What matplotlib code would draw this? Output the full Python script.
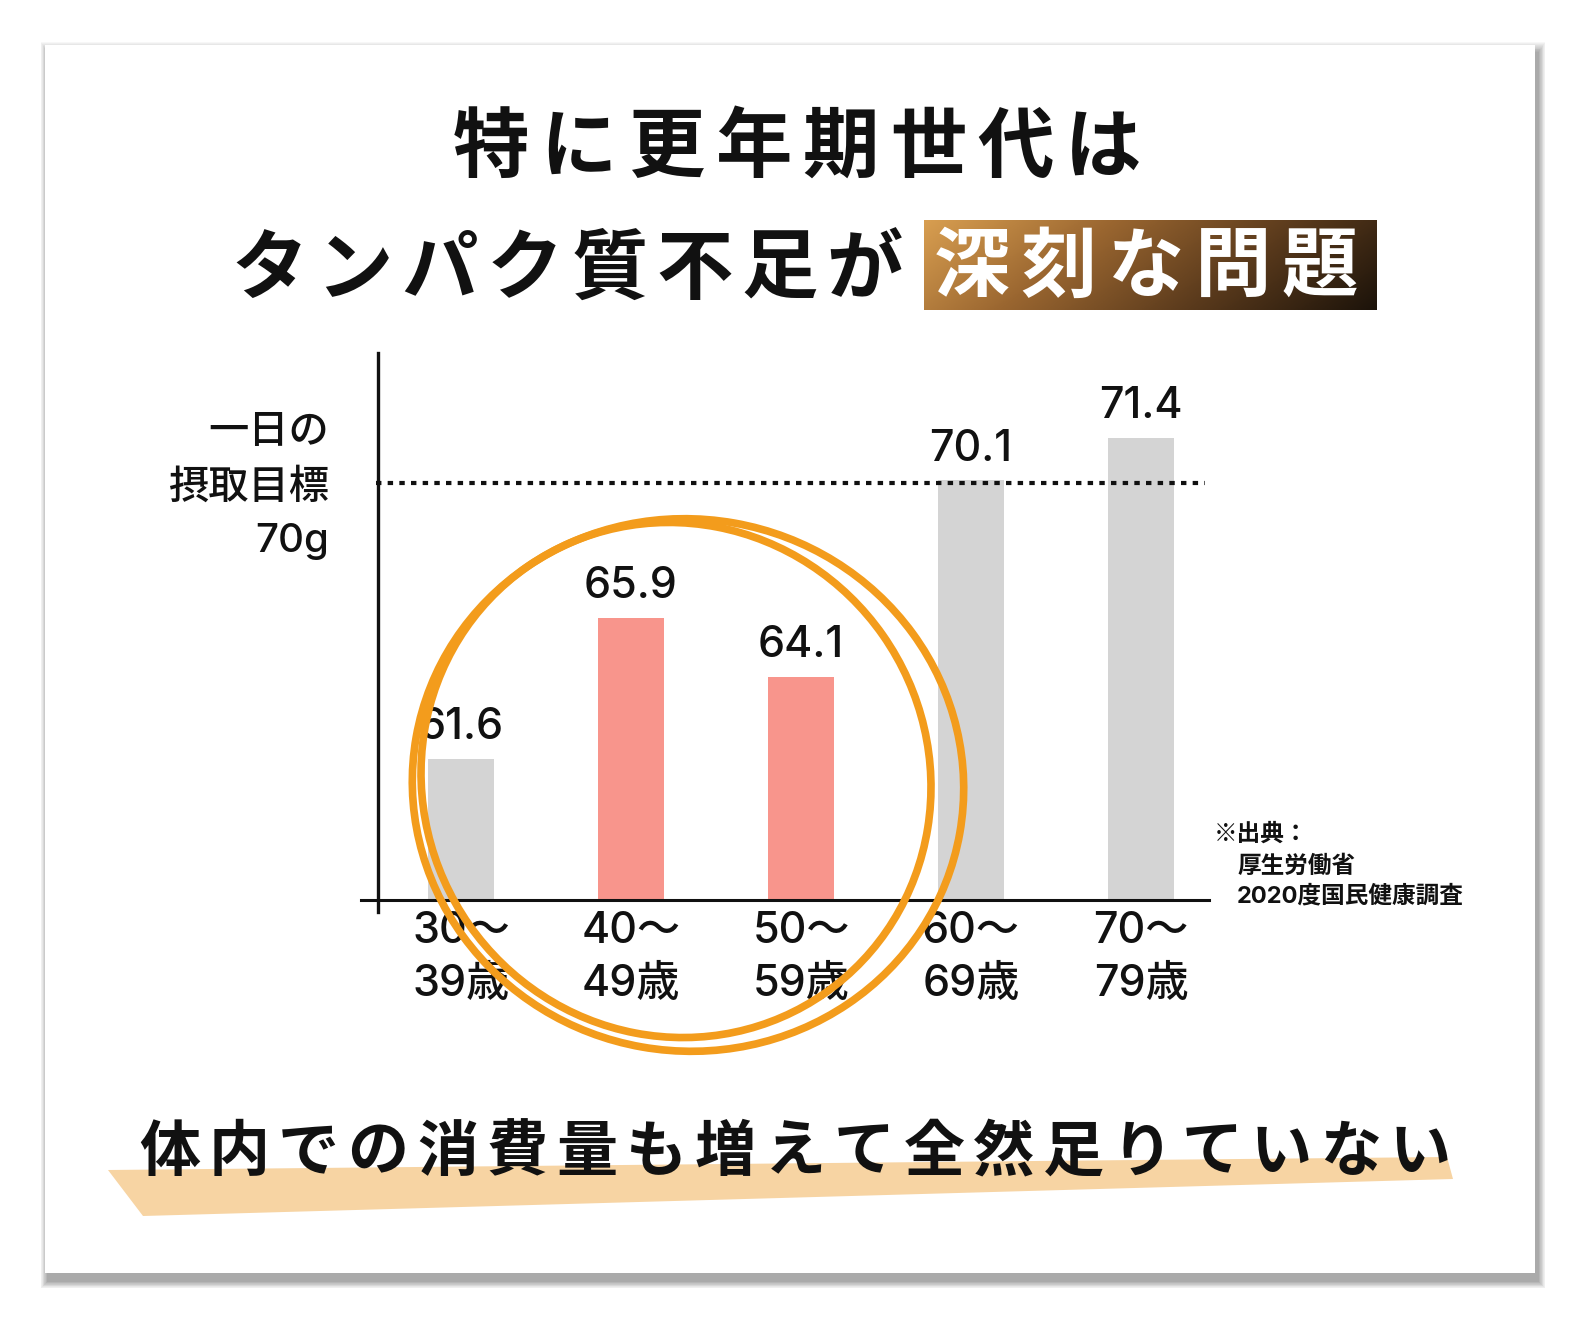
import numpy as np
import matplotlib
matplotlib.use("Agg")
import matplotlib.pyplot as plt
from matplotlib.patches import Rectangle, Polygon, Ellipse
from matplotlib.colors import LinearSegmentedColormap

plt.rcParams['font.family'] = ['Noto Sans CJK JP', 'DejaVu Sans']
NUM_FONT = ['Inter', 'Noto Sans CJK JP', 'DejaVu Sans']

# data
age_groups = ["30～\n39歳", "40～\n49歳", "50～\n59歳", "60～\n69歳", "70～\n79歳"]
intake = [61.6, 65.9, 64.1, 70.1, 71.4]
highlight = [False, True, True, False, False]
target = 70
target_label = ["一日の", "摂取目標", "70g"]
title_1 = "特に更年期世代は"
title_2 = "タンパク質不足が"
title_box = "深刻な問題"
footer = "体内での消費量も増えて全然足りていない"
source = ["※出典：", "厚生労働省", "2020度国民健康調査"]

W, H = 1580, 1320
fig = plt.figure(figsize=(W / 100, H / 100), dpi=100)
fig.patch.set_facecolor("white")

# background layer in pixel coords
bg = fig.add_axes([0, 0, 1, 1], zorder=0)
bg.set_xlim(0, W)
bg.set_ylim(H, 0)
bg.axis("off")

# card with soft shadow, mostly below
for k in range(12, 0, -1):
        bg.add_patch(Rectangle((45 + 3 - k * 0.6, 45 + 8 - k * 0.9), 1490 + k * 1.2, 1228 + k * 1.5,
                               facecolor="#000000", alpha=0.03, edgecolor="none", zorder=1))
bg.add_patch(Rectangle((45, 45), 1490, 1228, facecolor="white", edgecolor="none", zorder=2))


def spaced(ax, text, cx, cy, pitch, **kw):
        n = len(text)
        for i, ch in enumerate(text):
                ax.text(cx + (i - (n - 1) / 2) * pitch, cy, ch, ha="center", va="center", **kw)


# title
spaced(bg, title_1, 797, 148, 87.4, fontsize=55, fontweight="bold", color="#111111", zorder=5)
spaced(bg, title_2, 567, 270, 85, fontsize=55, fontweight="bold", color="#111111", zorder=5)
u, v = np.meshgrid(np.linspace(0, 1, 200), np.linspace(0, 1, 50))
grad = 0.8 * u + 0.2 * v
cmap = LinearSegmentedColormap.from_list("gold", ["#d89e50", "#9a6630", "#5a3a1c", "#1c130a"])
bg.imshow(grad, cmap=cmap, extent=(924, 1377, 310, 220), aspect="auto", zorder=3)
spaced(bg, title_box, 1146, 268, 87, fontsize=55, fontweight="bold", color="white", zorder=5)

# footer with band
bg.add_patch(Polygon([(108, 1170), (1447, 1157), (1453, 1179), (143, 1216)],
                     closed=True, facecolor="#f7d4a3", edgecolor="none", zorder=3))
spaced(bg, footer, 795, 1153, 69.5, fontsize=44, fontweight="bold", color="#111111", zorder=5)

# target label
for txt, y in zip(target_label, [433, 488, 541]):
        bg.text(329, y, txt, ha="right", va="center", fontsize=29, fontweight="medium",
                family=NUM_FONT, color="#111111", zorder=5)

# source note
for i, (txt, xx, yy) in enumerate(zip(source, [1214, 1237, 1237], [834, 866, 896])):
        fam = NUM_FONT if i == 2 else ['Noto Sans CJK JP', 'DejaVu Sans']
        bg.text(xx, yy, txt, ha="left", va="center", fontsize=17, fontweight="bold",
                family=fam, color="#111111", zorder=5)

# chart
base = 57.29
top = 73.98
ax = fig.add_axes([361 / W, (H - 900) / H, 848 / W, 547 / H], zorder=1)
ax.patch.set_alpha(0)
for s in ax.spines.values():
        s.set_visible(False)
x = np.arange(len(intake))
colors = ["#f8958c" if h else "#d4d4d4" for h in highlight]
ax.bar(x, intake, width=0.39, color=colors, zorder=2)
ax.set_xlim(-0.588, 4.4)
ax.set_ylim(base, top)
ax.axhline(base, color="#111111", lw=2.2, zorder=3, clip_on=False)
ax.plot([0.02, 0.02], [-0.022, 1], transform=ax.transAxes, color="#111111", lw=2.4,
        clip_on=False, zorder=3)
ax.axhline(target, xmin=0.018, xmax=0.995, color="#111111", lw=3,
           linestyle=(0, (1.3, 1.5)), zorder=4)
for xi, val in zip(x, intake):
        ax.annotate(f"{val}", (xi, val), xytext=(0, 14), textcoords="offset points",
                    ha="center", va="baseline", fontsize=31, fontweight="medium",
                    family=NUM_FONT, color="#111111")
ax.set_yticks([])
ax.set_xticks(x, age_groups)
ax.tick_params(axis="x", length=0, pad=8, labelsize=31, labelcolor="#111111")
for lbl in ax.get_xticklabels():
        lbl.set_linespacing(1.36)
        lbl.set_family(NUM_FONT)
        lbl.set_fontweight("medium")

# hand drawn circle on top
fg = fig.add_axes([0, 0, 1, 1], zorder=2)
fg.set_xlim(0, W)
fg.set_ylim(H, 0)
fg.axis("off")
fg.patch.set_alpha(0)
for (cx, cy, w, h, ang) in [(688, 785, 552, 532, 10), (676, 780, 505, 520, -35)]:
        fg.add_patch(Ellipse((cx, cy), w, h, angle=ang, fill=False, edgecolor="#f39c1c", lw=5.5))

fig.savefig("out.png", dpi=100, facecolor="white")
